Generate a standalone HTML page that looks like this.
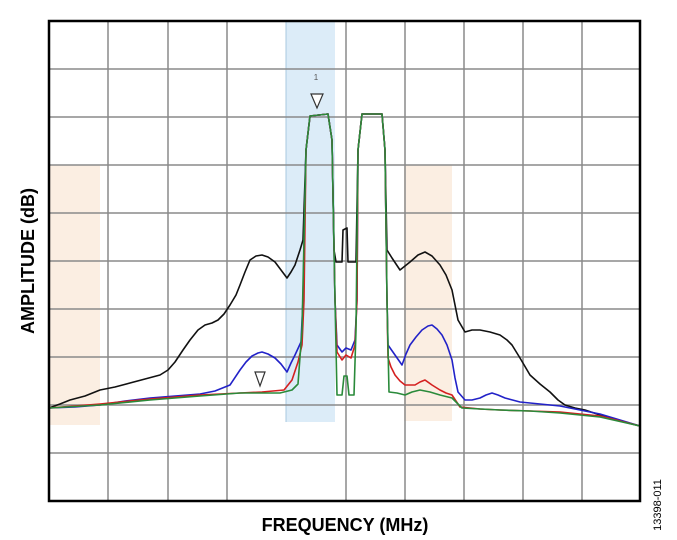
<!DOCTYPE html>
<html><head><meta charset="utf-8"><style>
body{margin:0;background:#fff;}
svg{display:block;}
</style></head><body>
<svg width="677" height="540" viewBox="0 0 677 540" xmlns="http://www.w3.org/2000/svg">
<rect x="0" y="0" width="677" height="540" fill="#fff"/>
<rect x="50" y="165" width="50" height="260" fill="#fbeee2"/>
<rect x="404" y="165" width="48" height="256" fill="#fbeee2"/>
<rect x="286" y="21" width="49" height="401" fill="#dcecf8"/>
<line x1="286" y1="21" x2="286" y2="422" stroke="#a9c9df" stroke-width="1"/>
<g stroke="#8a8a8a" stroke-width="1.5">
<line x1="108" y1="21" x2="108" y2="501"/>
<line x1="168" y1="21" x2="168" y2="501"/>
<line x1="227" y1="21" x2="227" y2="501"/>
<line x1="346" y1="21" x2="346" y2="501"/>
<line x1="405" y1="21" x2="405" y2="501"/>
<line x1="464" y1="21" x2="464" y2="501"/>
<line x1="523" y1="21" x2="523" y2="501"/>
<line x1="582" y1="21" x2="582" y2="501"/>
<line x1="49" y1="69" x2="640" y2="69"/>
<line x1="49" y1="117" x2="640" y2="117"/>
<line x1="49" y1="165" x2="640" y2="165"/>
<line x1="49" y1="213" x2="640" y2="213"/>
<line x1="49" y1="261" x2="640" y2="261"/>
<line x1="49" y1="309" x2="640" y2="309"/>
<line x1="49" y1="357" x2="640" y2="357"/>
<line x1="49" y1="405" x2="640" y2="405"/>
<line x1="49" y1="453" x2="640" y2="453"/>
</g>
<g fill="none" stroke-width="1.6" stroke-linejoin="round">
<polyline stroke="#111" points="49,408 60,404 70,400 85,396 100,390 115,387 130,383 145,379 160,375 168,370 175,362 183,350 190,340 198,330 205,325 212,323 218,320 224,314 230,305 236,295 240,285 245,272 250,260 256,256 262,255 268,257 275,262 281,270 287,278 291,272 295,265 300,250 303,240 306,150 310,116 328,114 332,140 334,250 336,262 342,262 343,230 347,228 348,262 356,262 358,150 362,114 382,114 385,150 387,250 392,258 400,270 405,266 410,262 418,255 425,252 432,256 440,265 446,275 452,290 458,320 465,332 472,330 480,330 490,332 500,335 507,340 512,345 520,358 530,375 540,384 550,392 558,400 565,405 575,408 585,410 597,414 610,418 625,422 640,426"/>
<polyline stroke="#2222c8" points="49,408 75,407 100,405 125,401 150,398 175,396 200,394 215,391 230,385 240,370 246,362 252,356 258,353 262,352 268,354 275,358 281,364 287,372 291,363 295,355 301,342 303,300 306,150 310,116 328,114 332,140 335,300 337,345 342,352 346,348 351,350 355,340 357,300 358,150 362,114 382,114 385,150 387,300 388,345 395,355 402,365 406,354 410,345 416,337 422,330 428,326 432,325 437,329 442,335 447,345 452,360 455,378 458,392 465,400 472,400 480,398 486,395 492,393 498,395 505,398 520,402 540,404 560,406 580,410 600,414 620,420 640,426"/>
<polyline stroke="#d42020" points="49,408 100,404 150,399 200,395 240,393 262,392 284,390 292,380 298,362 302,345 304,300 306,150 310,116 328,114 332,140 335,300 337,352 342,360 346,355 351,358 355,345 357,300 358,150 362,114 382,114 385,150 387,300 388,358 391,367 395,375 400,381 405,385 410,385 415,385 420,382 425,380 432,385 440,390 446,393 452,395 456,401 460,407 480,409 500,410 530,411 560,412 600,416 640,426"/>
<polyline stroke="#2a8a3a" points="49,408 100,405 150,400 200,396 240,393 280,393 292,390 298,384 302,330 306,150 310,116 328,114 332,140 335,300 337,395 342,395 344,376 347,376 349,395 354,395 356,330 358,150 362,114 382,114 385,150 387,300 389,392 397,393 405,395 412,392 420,390 430,392 440,395 452,398 457,403 462,408 480,409 500,410 530,411 560,413 600,417 640,426"/>
</g>
<polygon points="311,94 323,94 317,108" fill="#fff" stroke="#333" stroke-width="1.2"/>
<text x="316" y="80" font-family="Liberation Sans, sans-serif" font-size="8" fill="#555" text-anchor="middle">1</text>
<polygon points="255,372 265,372 260,386" fill="#fff" stroke="#333" stroke-width="1.2"/>
<rect x="49" y="21" width="591" height="480" fill="none" stroke="#000" stroke-width="2.5"/>
<text x="345" y="531" font-family="Liberation Sans, sans-serif" font-size="18" font-weight="bold" text-anchor="middle">FREQUENCY (MHz)</text>
<text transform="translate(34,261) rotate(-90)" font-family="Liberation Sans, sans-serif" font-size="18" font-weight="bold" text-anchor="middle">AMPLITUDE (dB)</text>
<text transform="translate(661,505) rotate(-90)" font-family="Liberation Sans, sans-serif" font-size="11" text-anchor="middle">13398-011</text>
</svg>
</body></html>
